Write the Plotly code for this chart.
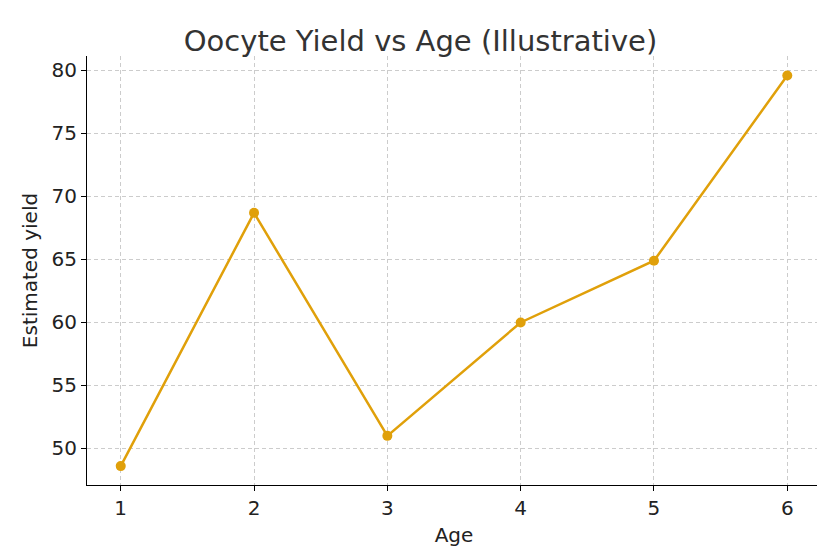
import plotly.graph_objects as go

ages = [1, 2, 3, 4, 5, 6]
yields = [48.6, 68.7, 51.0, 60.0, 64.9, 79.6]

fig = go.Figure(go.Scatter(x=ages, y=yields, mode="lines+markers",
    line=dict(color="#E0A00A", width=2.5), marker=dict(color="#E0A00A", size=10)))

fig.update_layout(
    width=825, height=550, plot_bgcolor="white", paper_bgcolor="white",
    margin=dict(l=79, r=12, t=48, b=73),
    font=dict(family="DejaVu Sans", color="#222", size=20),
    title=dict(text="Oocyte Yield vs Age (Illustrative)", x=0.5, xanchor="center",
               y=0.94, yanchor="middle", font=dict(size=29, color="#333")),
    showlegend=False,
)
axis_common = dict(showgrid=True, gridcolor="#cccccc", griddash="4px,3px", gridwidth=1,
                   showline=True, linecolor="black", linewidth=1.2, ticks="outside",
                   ticklen=5, tickcolor="black", zeroline=False)
fig.update_xaxes(range=[0.747, 6.253], tickvals=ages, title=dict(text="Age", font=dict(size=20), standoff=8),
                 **axis_common)
fig.update_yaxes(range=[47.1, 81.15], tickvals=[50, 55, 60, 65, 70, 75, 80],
                 title=dict(text="Estimated yield", font=dict(size=20), standoff=8), **axis_common)

fig.write_html("out.html")
